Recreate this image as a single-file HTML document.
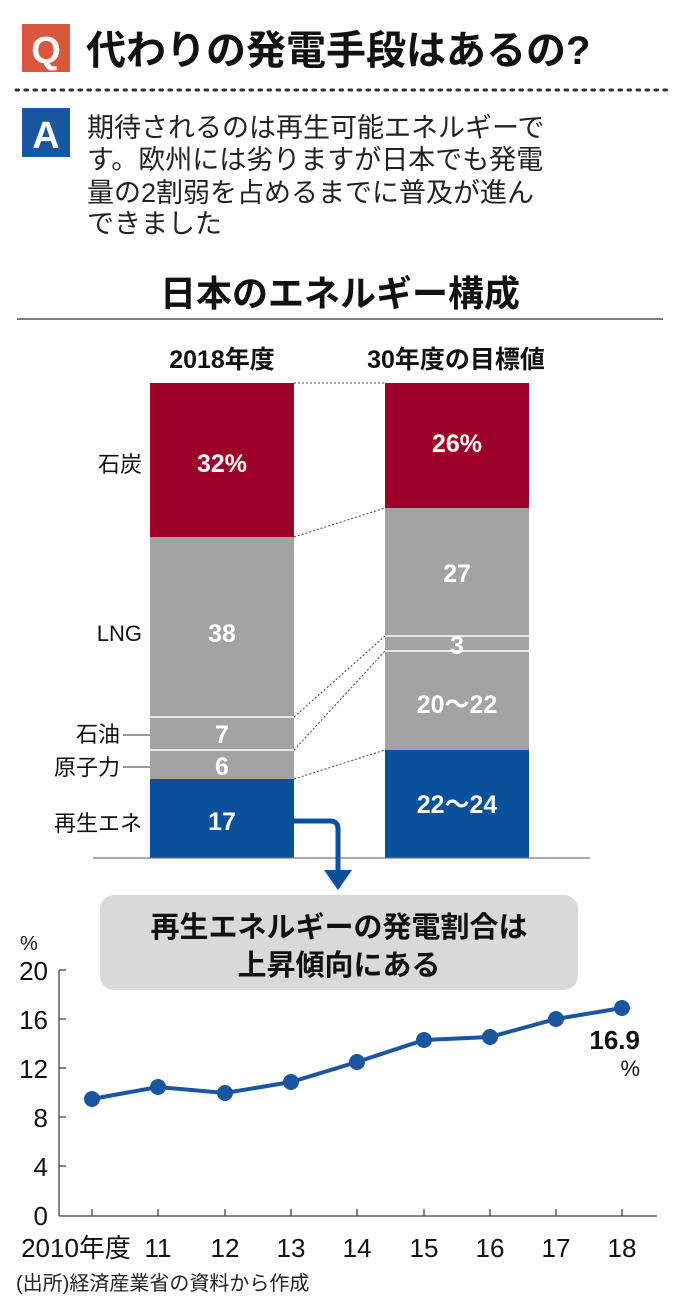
<!DOCTYPE html>
<html><head><meta charset="utf-8"><style>
body{margin:0;background:#fff;width:680px;height:1302px;overflow:hidden}
svg{display:block}
text{font-family:"Liberation Sans","Noto Sans CJK JP",sans-serif}
</style></head><body>
<svg width="680" height="1302" viewBox="0 0 680 1302">
<!-- Q header -->
<rect x="22" y="24" width="48" height="48" fill="#d9573f"/>
<text x="46" y="63" font-size="38" font-weight="bold" fill="#fff" text-anchor="middle">Q</text>
<text x="86" y="64" font-size="40" font-weight="bold" fill="#111">代わりの発電手段はあるの?</text>
<line x1="16" y1="90" x2="668" y2="90" stroke="#333" stroke-width="3" stroke-dasharray="2.5 6.5" stroke-linecap="round"/>
<rect x="22" y="108" width="48" height="49" fill="#1a56a0"/>
<text x="46" y="148" font-size="38" font-weight="bold" fill="#fff" text-anchor="middle">A</text>
<g font-size="27" fill="#222">
<text x="87" y="137">期待されるのは再生可能エネルギーで</text>
<text x="87" y="169">す。欧州には劣りますが日本でも発電</text>
<text x="87" y="202">量の2割弱を占めるまでに普及が進ん</text>
<text x="87" y="233">できました</text>
</g>
<text x="340" y="306" font-size="36" font-weight="bold" fill="#111" text-anchor="middle">日本のエネルギー構成</text>
<line x1="17" y1="319" x2="663" y2="319" stroke="#555" stroke-width="1.5"/>
<!-- column headers -->
<text x="222" y="368" font-size="25" font-weight="bold" fill="#111" text-anchor="middle">2018年度</text>
<text x="456" y="368" font-size="25" font-weight="bold" fill="#111" text-anchor="middle">30年度の目標値</text>
<!-- bars left -->
<rect x="150" y="383" width="144" height="154" fill="#9c0026"/>
<rect x="150" y="537" width="144" height="180" fill="#a3a3a3"/>
<rect x="150" y="717" width="144" height="33" fill="#a3a3a3"/>
<rect x="150" y="750" width="144" height="29" fill="#a3a3a3"/>
<rect x="150" y="779" width="144" height="79" fill="#0a4f9a"/>
<line x1="150" y1="717" x2="294" y2="717" stroke="#fff" stroke-width="1.5"/>
<line x1="150" y1="750" x2="294" y2="750" stroke="#fff" stroke-width="1.5"/>
<!-- bars right -->
<rect x="385" y="383" width="144" height="125" fill="#9c0026"/>
<rect x="385" y="508" width="144" height="128" fill="#a3a3a3"/>
<rect x="385" y="636" width="144" height="15" fill="#a3a3a3"/>
<rect x="385" y="651" width="144" height="99" fill="#a3a3a3"/>
<rect x="385" y="750" width="144" height="108" fill="#0a4f9a"/>
<line x1="385" y1="636" x2="529" y2="636" stroke="#fff" stroke-width="1.5"/>
<line x1="385" y1="651" x2="529" y2="651" stroke="#fff" stroke-width="1.5"/>
<!-- dotted connectors -->
<g stroke="#444" stroke-width="1" stroke-dasharray="2 2">
<line x1="294" y1="383" x2="385" y2="383"/>
<line x1="294" y1="537" x2="385" y2="508"/>
<line x1="294" y1="717" x2="385" y2="636"/>
<line x1="294" y1="750" x2="385" y2="651"/>
<line x1="294" y1="779" x2="385" y2="750"/>
</g>
<line x1="93" y1="858" x2="590" y2="858" stroke="#777" stroke-width="1.2"/>
<!-- bar values -->
<g font-size="25" font-weight="bold" fill="#fff" text-anchor="middle">
<text x="222" y="472">32%</text>
<text x="222" y="642">38</text>
<text x="222" y="743">7</text>
<text x="222" y="775">6</text>
<text x="222" y="830">17</text>
<text x="457" y="452">26%</text>
<text x="457" y="582">27</text>
<text x="457" y="654">3</text>
<text x="457" y="713">20～22</text>
<text x="457" y="813">22～24</text>
</g>
<!-- left labels -->
<g font-size="22" fill="#111" text-anchor="end">
<text x="142" y="472">石炭</text>
<text x="142" y="641">LNG</text>
<text x="120" y="742">石油</text>
<text x="120" y="775">原子力</text>
<text x="142" y="831">再生エネ</text>
</g>
<line x1="123" y1="735" x2="150" y2="735" stroke="#333" stroke-width="1"/>
<line x1="123" y1="767" x2="150" y2="767" stroke="#333" stroke-width="1"/>
<!-- arrow -->
<path d="M294 821 H330 Q338 821 338 829 V872" fill="none" stroke="#0a4f9a" stroke-width="5"/>
<polygon points="324,870 352,870 338,890" fill="#0a4f9a"/>
<!-- callout -->
<rect x="100" y="895" width="478" height="95" rx="14" fill="#d9d9d9"/>
<text x="339" y="937" font-size="29" font-weight="bold" fill="#111" text-anchor="middle">再生エネルギーの発電割合は</text>
<text x="339" y="975" font-size="29" font-weight="bold" fill="#111" text-anchor="middle">上昇傾向にある</text>
<!-- line chart axes -->
<line x1="59" y1="970" x2="59" y2="1216" stroke="#444" stroke-width="1.3"/>
<line x1="59" y1="1216" x2="657" y2="1216" stroke="#444" stroke-width="1.3"/>
<g stroke="#444" stroke-width="1.3">
<line x1="59" y1="970" x2="66" y2="970"/><line x1="59" y1="1019" x2="66" y2="1019"/>
<line x1="59" y1="1068" x2="66" y2="1068"/><line x1="59" y1="1117" x2="66" y2="1117"/>
<line x1="59" y1="1166" x2="66" y2="1166"/>
<line x1="92" y1="1216" x2="92" y2="1209"/><line x1="158" y1="1216" x2="158" y2="1209"/>
<line x1="225" y1="1216" x2="225" y2="1209"/><line x1="291" y1="1216" x2="291" y2="1209"/>
<line x1="357" y1="1216" x2="357" y2="1209"/><line x1="424" y1="1216" x2="424" y2="1209"/>
<line x1="490" y1="1216" x2="490" y2="1209"/><line x1="556" y1="1216" x2="556" y2="1209"/>
<line x1="622" y1="1216" x2="622" y2="1209"/>
</g>
<g font-size="26" fill="#111" text-anchor="end">
<text x="48" y="980">20</text><text x="48" y="1029">16</text><text x="48" y="1078">12</text>
<text x="48" y="1127">8</text><text x="48" y="1176">4</text><text x="48" y="1225">0</text>
</g>
<text x="20" y="950" font-size="20" fill="#111">%</text>
<g font-size="26" fill="#111" text-anchor="middle">
<text x="76" y="1257">2010年度</text><text x="158" y="1257">11</text><text x="225" y="1257">12</text>
<text x="291" y="1257">13</text><text x="357" y="1257">14</text><text x="424" y="1257">15</text>
<text x="490" y="1257">16</text><text x="556" y="1257">17</text><text x="622" y="1257">18</text>
</g>
<polyline points="92,1099 158,1087 225,1093 291,1082 357,1062 424,1040 490,1037 556,1019 622,1008" fill="none" stroke="#1a56a0" stroke-width="4"/>
<g fill="#1a56a0">
<circle cx="92" cy="1099" r="8"/><circle cx="158" cy="1087" r="8"/><circle cx="225" cy="1093" r="8"/>
<circle cx="291" cy="1082" r="8"/><circle cx="357" cy="1062" r="8"/><circle cx="424" cy="1040" r="8"/>
<circle cx="490" cy="1037" r="8"/><circle cx="556" cy="1019" r="8"/><circle cx="622" cy="1008" r="8"/>
</g>
<text x="640" y="1049" font-size="26" font-weight="bold" fill="#111" text-anchor="end">16.9</text>
<text x="640" y="1076" font-size="22" fill="#111" text-anchor="end">%</text>
<text x="16" y="1290" font-size="20" fill="#222">(出所)経済産業省の資料から作成</text>
</svg>
</body></html>
